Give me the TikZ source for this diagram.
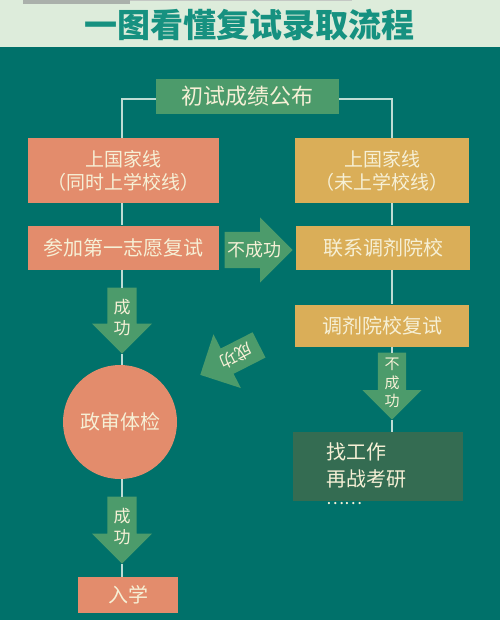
\documentclass[tikz,border=0pt]{standalone}
\usepackage{fontspec}
\newfontfamily\cjk{Noto Sans CJK SC}
\usetikzlibrary{shapes.arrows,calc}
\definecolor{bgteal}{RGB}{0,113,106}
\definecolor{bgmint}{RGB}{221,236,219}
\definecolor{titleteal}{RGB}{22,145,128}
\definecolor{greybar}{RGB}{170,176,171}
\definecolor{boxgreen}{RGB}{76,155,107}
\definecolor{salmon}{RGB}{227,140,108}
\definecolor{gold}{RGB}{218,174,88}
\definecolor{darkgreen}{RGB}{52,108,82}
\definecolor{cream}{RGB}{246,240,214}
\definecolor{linegray}{RGB}{190,220,212}

\begin{document}
\begin{tikzpicture}[x=1pt,y=-1pt,
  every node/.style={inner sep=0pt,text=cream},
  topbox/.style={fill=boxgreen,minimum width=183pt,minimum height=35pt,font=\cjk\fontsize{22}{26}\selectfont},
  redbox/.style={fill=salmon,minimum width=191pt,align=center,font=\cjk\fontsize{19}{23}\selectfont},
  goldbox/.style={fill=gold,minimum width=174pt,align=center,font=\cjk\fontsize{19}{23}\selectfont},
  blockarrow/.style n args={3}{single arrow,fill=boxgreen,anchor=tip,inner xsep=0pt,
    inner ysep=#2,minimum height=#1,single arrow head extend=#3},
  arrowtext/.style={align=center,font=\cjk\fontsize{17}{21}\selectfont},
  conn/.style={draw=linegray,line width=1.1pt}]
\useasboundingbox (0,0) rectangle (500,620);
\fill[bgmint] (0,0) rectangle (500,47);
\fill[bgteal] (0,47) rectangle (500,620);
\fill[greybar] (23,0) rectangle (130,4);
\fill[greybar!70] (130,0) rectangle (352,1);
\node[text=titleteal,font=\cjk\bfseries\fontsize{33}{33}\selectfont] (title) at (249,25) {一图看懂复试录取流程};

\coordinate (lsp) at (122,0);
\coordinate (rsp) at (392,0);

\node[topbox] (top) at (247.5,96.5) {初试成绩公布};
\node[redbox,minimum height=65pt] (l1) at (123.5,170.5) {上国家线\\（同时上学校线）};
\node[redbox,minimum height=44pt,font=\cjk\fontsize{20}{24}\selectfont] (l2) at (123.5,247.5) {参加第一志愿复试};
\node[goldbox,minimum height=65pt] (r1) at (382,170.5) {上国家线\\（未上学校线）};
\node[goldbox,minimum height=44pt,font=\cjk\fontsize{20}{24}\selectfont] (r2) at (383,247.5) {联系调剂院校};
\node[goldbox,minimum height=42pt,font=\cjk\fontsize{20}{24}\selectfont] (r3) at (382,325.5) {调剂院校复试};
\node[circle,fill=salmon,minimum size=114pt,font=\cjk\fontsize{20}{24}\selectfont] (check) at (120,422) {政审体检};
\node[fill=salmon,minimum width=100pt,minimum height=36pt,font=\cjk\fontsize{20}{24}\selectfont] (enrol) at (128,595) {入学};
\node[fill=darkgreen,minimum width=170pt,minimum height=69pt] (job) at (378,466.5) {};
\node[anchor=west,align=left,font=\cjk\fontsize{20}{27}\selectfont] (jobtext) at ([xshift=33pt,yshift=-7pt]job.west) {找工作\\再战考研\\[-9pt]{\fontsize{17}{20}\selectfont ……}};

\node[blockarrow={66pt}{14.5pt}{15.5pt},rotate=-90] (ok1) at (122,354) {};
\node[blockarrow={67pt}{14.5pt}{15.5pt},rotate=-90] (ok2) at (122,564) {};
\node[blockarrow={68pt}{18pt}{14.5pt}] (no1) at (293,250) {};
\node[blockarrow={67pt}{14pt}{15.5pt},rotate=-90] (no2) at (392,420) {};
\node[blockarrow={66pt}{14pt}{16pt},rotate=207] (ok3) at (200,375) {};

\node[arrowtext] (ok1t) at ($(ok1.tail)!0.45!(ok1.tip)$) {成\\功};
\node[arrowtext] (ok2t) at ($(ok2.tail)!0.45!(ok2.tip)$) {成\\功};
\node[arrowtext,font=\cjk\fontsize{18}{22}\selectfont] (no1t) at (254,250) {不成功};
\node[arrowtext,font=\cjk\fontsize{15}{18.5}\selectfont] (no2t) at (392,383) {不\\成\\功};
\node[arrowtext,rotate=207] (ok3t) at (236,356) {成功};

\draw[conn] ([yshift=-2.5pt]top.west) -| (lsp |- l1.north);
\draw[conn] ([yshift=-2.5pt]top.east) -| (rsp |- r1.north);
\draw[conn] (lsp |- l1.south) -- (lsp |- l2.north);
\draw[conn] (lsp |- l2.south) -- (ok1.tail);
\draw[conn] (ok1.tip) -- (lsp |- check.north);
\draw[conn] (lsp |- check.south) -- (ok2.tail);
\draw[conn] (ok2.tip) -- (lsp |- enrol.north);
\draw[conn] (rsp |- r1.south) -- (rsp |- r2.north);
\draw[conn] (rsp |- r2.south) -- (rsp |- r3.north);
\draw[conn] (rsp |- r3.south) -- (no2.tail);
\draw[conn] (no2.tip) -- (rsp |- job.north);
\end{tikzpicture}
\end{document}
